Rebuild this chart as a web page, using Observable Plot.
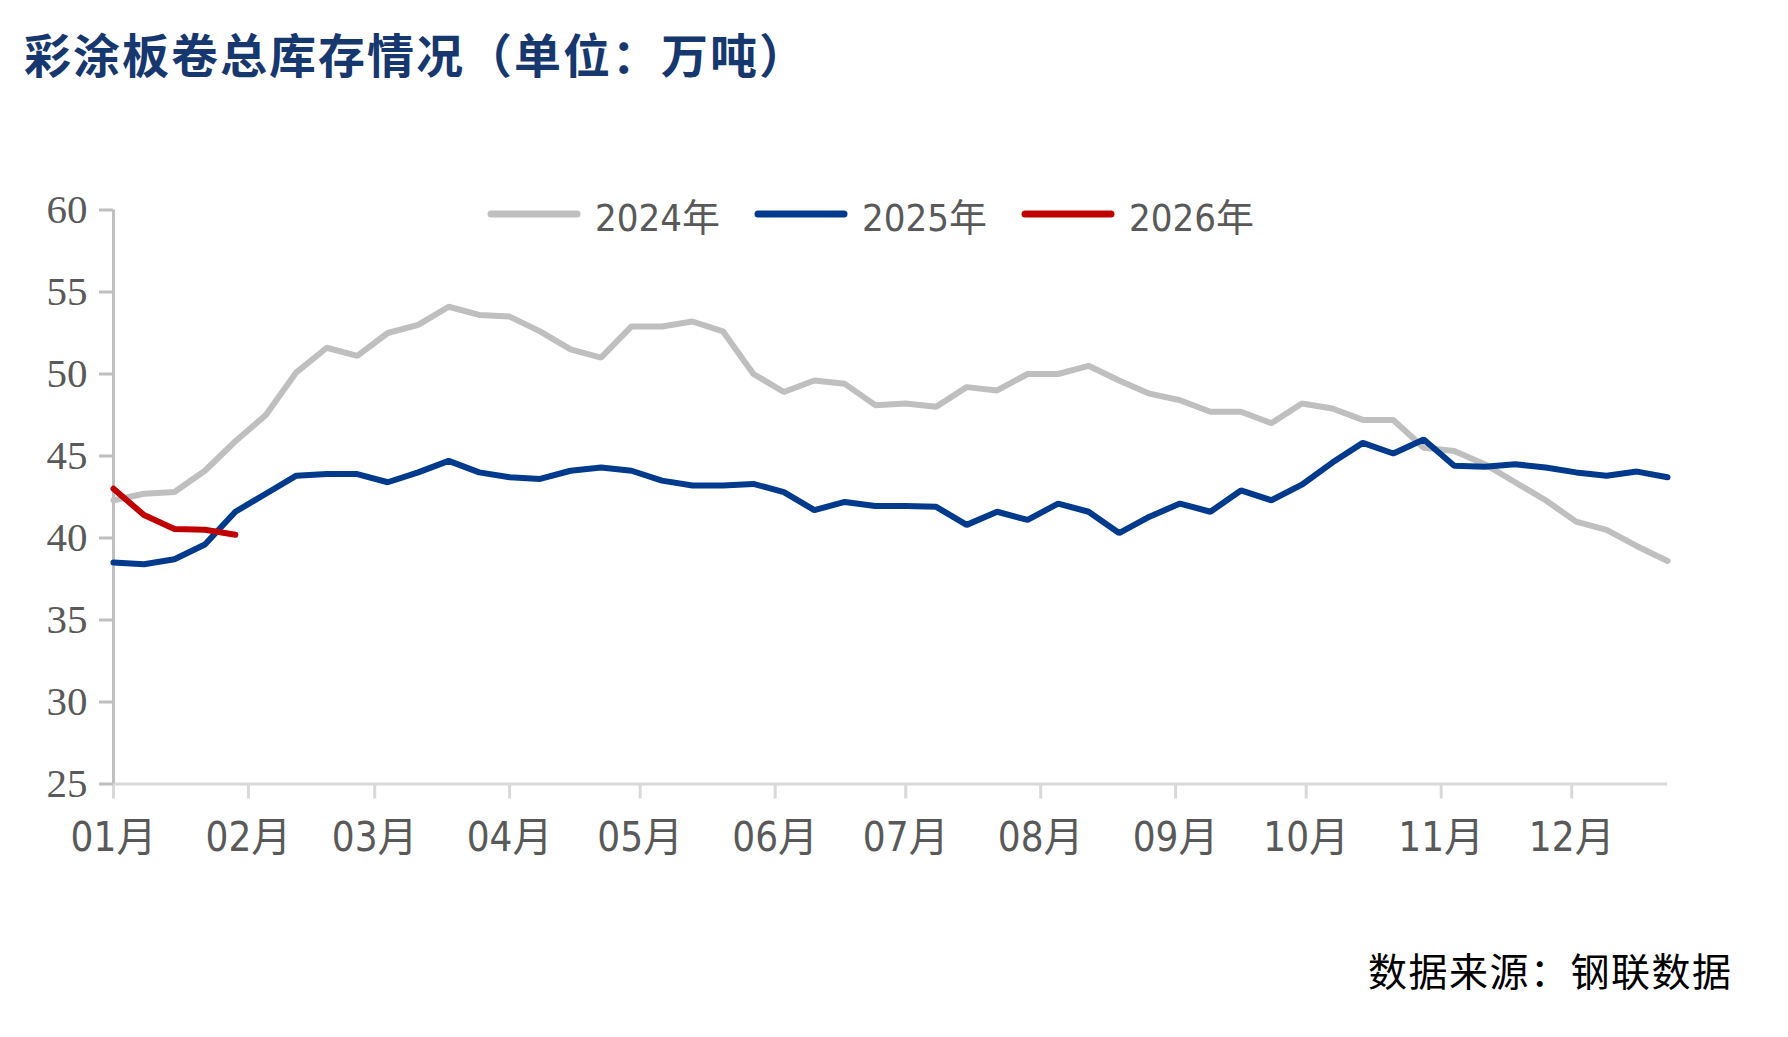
<!DOCTYPE html>
<html>
<head>
<meta charset="utf-8">
<script src="https://cdn.jsdelivr.net/npm/d3@7"></script>
<script src="https://cdn.jsdelivr.net/npm/@observablehq/plot@0.6"></script>
<style>
  html, body { margin: 0; padding: 0; background: #ffffff; }
  #page { position: relative; width: 1788px; height: 1037px; overflow: hidden; background: #ffffff; }
  #title { position: absolute; left: 24px; top: 28px; font-family: "Noto Sans CJK SC", sans-serif; font-weight: 700; font-size: 47px; line-height: 50px; color: #17386e; letter-spacing: 2px; white-space: nowrap; }
  #chart { position: absolute; left: 0; top: 120px; }
  .leg { position: absolute; top: 190px; height: 48px; display: flex; align-items: center; white-space: nowrap; }
  .leg span { font-family: "Liberation Sans Narrow", "Arial Narrow", "DejaVu Sans Condensed", "Noto Sans CJK SC", sans-serif; font-size: 38px; color: #595959; margin-left: 14px; }
  #caption { position: absolute; left: 1368px; top: 945px; font-family: "Noto Sans CJK SC", sans-serif; font-size: 39px; line-height: 48px; color: #000; letter-spacing: 1.5px; white-space: nowrap; }
  #chart g[aria-label="y-axis tick label"] text, #chart g[aria-label="y-axis tick label"] { font-family: "Liberation Serif", "DejaVu Serif", serif; }
  #chart g[aria-label="x-axis tick label"] text, #chart g[aria-label="x-axis tick label"] { font-family: "Liberation Sans Narrow", "Arial Narrow", "DejaVu Sans Condensed", "Noto Sans CJK SC", sans-serif; }
</style>
</head>
<body>
<div id="page">
  <div id="title"></div>
  <div id="legend"></div>
  <div id="chart"></div>
  <div id="caption"></div>
</div>
<script>
// ---- data ----
const titleText = "彩涂板卷总库存情况（单位：万吨）";
const captionText = "数据来源：钢联数据";
const years = ["2024年", "2025年", "2026年"];
const colors = ["#bfbfbf", "#003a8c", "#c00000"];
const weeks = ["01-01","01-08","01-15","01-22","01-29","02-05","02-12","02-19","02-26","03-04",
  "03-11","03-18","03-25","04-01","04-08","04-15","04-22","04-29","05-06","05-13",
  "05-20","05-27","06-03","06-10","06-17","06-24","07-01","07-08","07-15","07-22",
  "07-29","08-05","08-12","08-19","08-26","09-02","09-09","09-16","09-23","09-30",
  "10-07","10-14","10-21","10-28","11-04","11-11","11-18","11-25","12-02","12-09",
  "12-16","12-23"];
const v2024 = [42.3,42.7,42.8,44.1,45.9,47.5,50.1,51.6,51.1,52.5,
  53.0,54.1,53.6,53.5,52.6,51.5,51.0,52.9,52.9,53.2,
  52.6,50.0,48.9,49.6,49.4,48.1,48.2,48.0,49.2,49.0,
  50.0,50.0,50.5,49.6,48.8,48.4,47.7,47.7,47.0,48.2,
  47.9,47.2,47.2,45.5,45.3,44.5,43.4,42.3,41.0,40.5,
  39.5,38.6];
const v2025 = [38.5,38.4,38.7,39.6,41.6,42.7,43.8,43.9,43.9,43.4,
  44.0,44.7,44.0,43.7,43.6,44.1,44.3,44.1,43.5,43.2,
  43.2,43.3,42.8,41.7,42.2,41.95,41.95,41.9,40.8,41.6,
  41.1,42.1,41.6,40.3,41.3,42.1,41.6,42.9,42.3,43.25,
  44.6,45.8,45.15,46.0,44.4,44.35,44.5,44.3,44.0,43.8,
  44.05,43.7];
const v2026 = [43.0,41.4,40.55,40.5,40.2];
const monthStarts = ["01-01","02-01","03-01","04-01","05-01","06-01","07-01","08-01","09-01","10-01","11-01","12-01"];
const monthLabels = ["01月","02月","03月","04月","05月","06月","07月","08月","09月","10月","11月","12月"];
const yTicks = [25,30,35,40,45,50,55,60];

// ---- build ----
const toDate = s => new Date(`2024-${s}T00:00:00Z`);
const series = [v2024, v2025, v2026].map((vals, k) =>
  vals.map((v, i) => ({date: toDate(weeks[i]), value: v, year: years[k]})));

document.getElementById("title").textContent = titleText;
document.getElementById("caption").textContent = captionText;

const legLefts = [487, 754, 1021];
const legend = document.getElementById("legend");
years.forEach((y, k) => {
  const d = document.createElement("div");
  d.className = "leg";
  d.style.left = legLefts[k] + "px";
  d.innerHTML = `<svg width="94" height="12"><line x1="4" y1="6" x2="90" y2="6" stroke="${colors[k]}" stroke-width="7" stroke-linecap="round"/></svg><span>${y}</span>`;
  legend.appendChild(d);
});

const chart = Plot.plot({
  width: 1788,
  height: 780,
  marginLeft: 113,
  marginRight: 121,
  marginTop: 89.5,
  marginBottom: 116.5,
  style: {background: "transparent", overflow: "visible"},
  x: {type: "utc", domain: [toDate(weeks[0]), toDate(weeks[weeks.length - 1])]},
  y: {domain: [25, 60]},
  marks: [
    Plot.ruleY([25], {stroke: "#d9d9d9", strokeWidth: 3}),
    Plot.axisX({
      ticks: monthStarts.map(toDate),
      tickFormat: d => monthLabels[d.getUTCMonth()],
      tickSize: 15, tickPadding: 24,
      stroke: "#d9d9d9", strokeWidth: 3,
      fill: "#595959", fontSize: 40, label: null
    }),
    Plot.ruleX([toDate(weeks[0])], {y1: 25, y2: 60, stroke: "#bfbfbf", strokeWidth: 3}),
    Plot.axisY({
      ticks: yTicks,
      tickSize: 14, tickPadding: 12,
      stroke: "#bfbfbf", strokeWidth: 3,
      fill: "#595959", fontSize: 41, label: null
    }),
    ...series.map((s, k) => Plot.line(s, {
      x: "date", y: "value",
      stroke: colors[k], strokeWidth: 6,
      strokeLinecap: "round", strokeLinejoin: "miter"
    }))
  ]
});
document.getElementById("chart").appendChild(chart);
</script>
</body>
</html>
